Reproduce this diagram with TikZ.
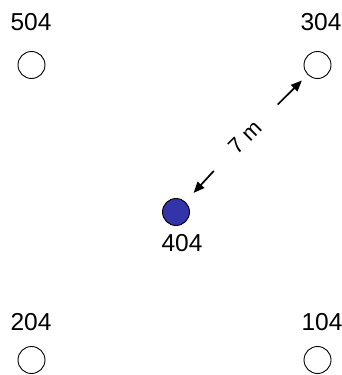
\documentclass[tikz,border=0pt]{standalone}
\usepackage{fontspec}
\setmainfont{Liberation Sans}
\usetikzlibrary{arrows.meta}
\definecolor{dotblue}{RGB}{51,51,170}
\begin{document}
\begin{tikzpicture}[x=1pt,y=-1pt,
  ring/.style={circle,draw=black,line width=0.9pt,minimum size=27pt,inner sep=0pt},
  filled/.style={ring,fill=dotblue},
  lab/.style={font=\fontsize{24.5}{26}\selectfont,inner sep=0pt,anchor=center},
  arr/.style={line width=1.7pt,-{Triangle[length=11pt,width=9pt]}}]
\useasboundingbox (0,0) rectangle (341,375);
\node[ring] (n504) at (31.5,65) {};
\node[ring] (n304) at (317.5,65) {};
\node[filled] (n404) at (176,212) {};
\node[ring] (n204) at (31.5,360) {};
\node[ring] (n104) at (317.5,360) {};
\node[lab] (l504) at (31,22) {504};
\node[lab] (l304) at (321,22) {304};
\node[lab] (l404) at (182,243) {404};
\node[lab] (l204) at (31,322) {204};
\node[lab] (l104) at (322,322) {104};
\node[font=\fontsize{22}{24}\selectfont,inner sep=0pt,rotate=45] (dist) at (245,137) {7 m};
\draw[arr,shorten <=46pt,shorten >=22pt] (dist.center) -- (n304.center);
\draw[arr,shorten <=46pt,shorten >=26pt] (dist.center) -- (n404.center);
\end{tikzpicture}
\end{document}
